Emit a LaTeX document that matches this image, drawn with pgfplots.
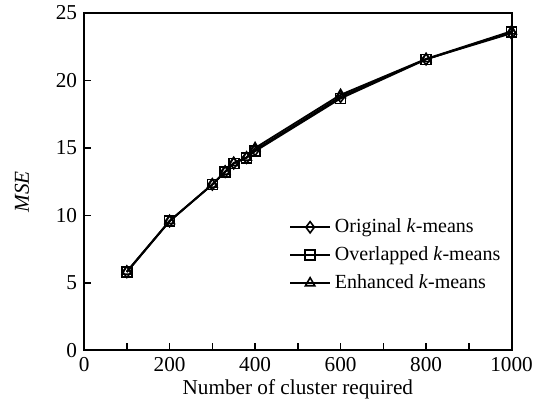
\documentclass[border=0pt]{standalone}
\usepackage{fontspec}
\setmainfont{Liberation Serif}
\usepackage{pgfplots}
\pgfplotsset{compat=1.18}
\usetikzlibrary{calc}
\begin{document}
\begin{tikzpicture}
\begin{axis}[
  name=ax,
  scale only axis,
  width=213.5pt, height=168.5pt,
  xmin=0, xmax=1000, ymin=0, ymax=25,
  xtick={0,200,...,1000},
  minor xtick={100,300,500,700,900},
  ytick={0,5,...,25},
  tick pos=left,
  tick align=inside,
  major tick length=3.5pt,
  minor tick length=3.5pt,
  tick style={black, line width=0.8pt},
  axis line style={line width=1pt},
  /pgf/number format/assume math mode=true,
  /pgf/number format/1000 sep={},
  ticklabel style={font=\fontsize{10.6}{12}\selectfont},
  xlabel={Number of cluster required},
  ylabel={\textit{MSE}},
  label style={font=\fontsize{10.6}{12}\selectfont},
  ylabel style={at={(rel axis cs:0,0.47)}, anchor=south, yshift=24pt},
  xlabel style={yshift=3pt},
  legend style={draw=none, fill=none, at={(rel axis cs:0.465,0.415)}, anchor=north west,
    font=\fontsize{10}{12}\selectfont, row sep=1.5pt},
  legend cell align=left,
  legend image code/.code={\draw[mark repeat=2,mark phase=2] plot coordinates {(0cm,0cm) (0.35cm,0cm) (0.7cm,0cm)};},
  every axis plot/.append style={line width=0.9pt},
]
\addplot[black, mark=diamond, mark size=2.8pt, mark options={fill=white, solid, line width=0.8pt}] coordinates {
(100,5.82) (200,9.58) (300,12.30) (330,13.24) (350,13.87) (380,14.28) (400,14.85) (600,18.80) (800,21.58) (1000,23.50)};
\addlegendentry{Original \textit{k}-means}
\addplot[black, mark=square, mark size=2.5pt, mark options={fill=white, solid, line width=0.8pt}] coordinates {
(100,5.80) (200,9.57) (300,12.29) (330,13.23) (350,13.85) (380,14.27) (400,14.76) (600,18.67) (800,21.56) (1000,23.60)};
\addlegendentry{Overlapped \textit{k}-means}
\addplot[black, mark=triangle, mark size=2.7pt, mark options={fill=white, solid, line width=0.8pt}] coordinates {
(100,5.85) (200,9.60) (300,12.30) (330,13.25) (350,13.90) (380,14.30) (400,15.00) (600,18.94) (800,21.60) (1000,23.65)};
\addlegendentry{Enhanced \textit{k}-means}
\end{axis}
\pgfresetboundingbox
\path ($(ax.south west)+(-42pt,-26.5pt)$) rectangle ($(ax.north east)+(12.2pt,6.5pt)$);
\end{tikzpicture}
\end{document}
